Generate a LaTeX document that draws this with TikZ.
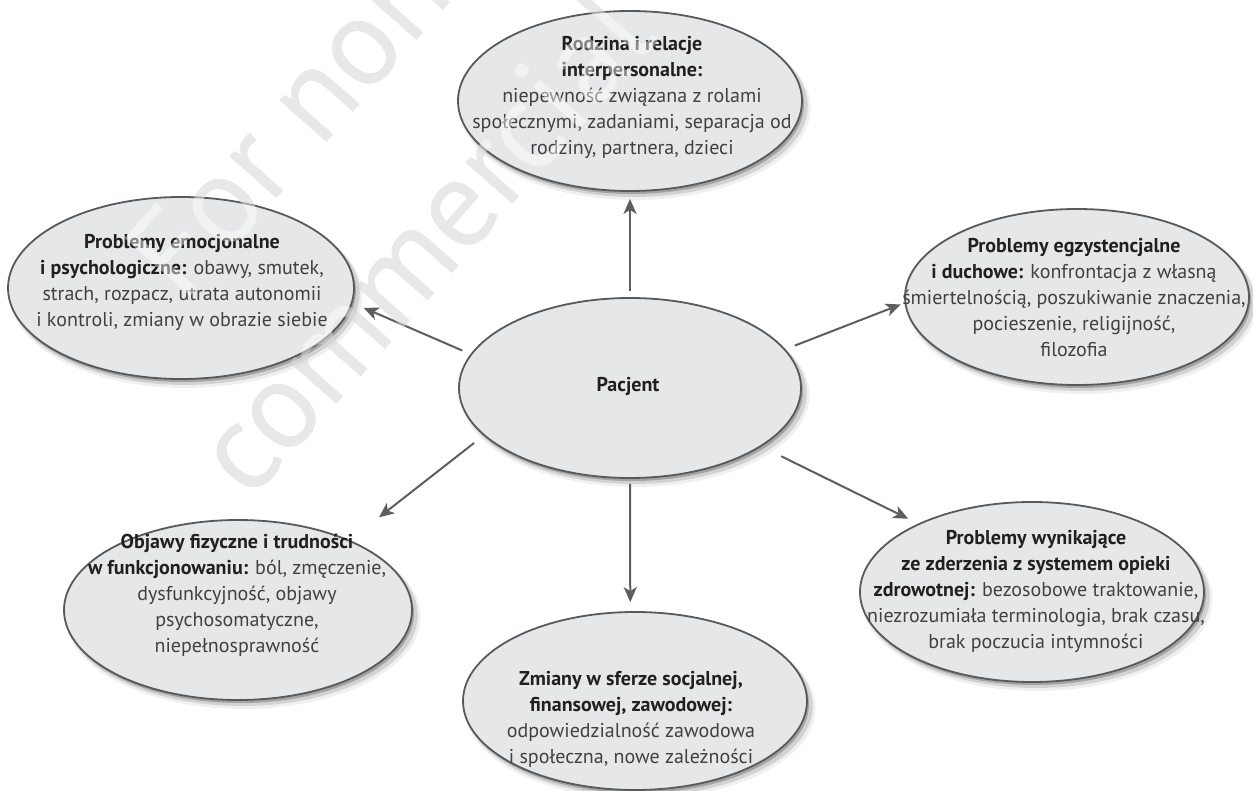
\documentclass[tikz,border=0pt]{standalone}
\usepackage{fontspec}
\setmainfont{PT Sans}
\usetikzlibrary{shapes.geometric,arrows.meta,shadows}

\definecolor{bubblefill}{HTML}{E6E7E8}
\definecolor{bubbleline}{HTML}{58595B}
\definecolor{ink}{HTML}{231F20}
\definecolor{bodytext}{HTML}{414042}
\definecolor{arrowgray}{HTML}{5D5E60}
\definecolor{markgray}{HTML}{D5D5D5}

% bold heading inside a bubble
\newcommand\hd[1]{{\bfseries\color{ink}#1}}

\begin{document}
\begin{tikzpicture}[x=1pt,y=-1pt,
  bubble/.style={ellipse, draw=bubbleline, line width=1.8pt, fill=bubblefill, inner sep=0pt,
    drop shadow={shadow xshift=2pt, shadow yshift=-3pt, opacity=0.22, fill=black},
    drop shadow={shadow xshift=4pt, shadow yshift=-5pt, shadow scale=1.01, opacity=0.12, fill=black},
    drop shadow={shadow xshift=5pt, shadow yshift=-7pt, shadow scale=1.02, opacity=0.06, fill=black}},
  bubbletext/.style={align=center, text=bodytext, font=\fontsize{20}{26}\selectfont, inner sep=0pt},
  link/.style={draw=arrowgray, line width=2pt, -{Stealth[length=15pt,width=13pt,inset=4pt]}},
  wmark/.style={rotate=48.5, align=center, font=\fontsize{125}{181}\selectfont, inner sep=0pt}]

\fill[white] (0,0) rectangle (1253,791);
\useasboundingbox (0,0) rectangle (1253,791);

% watermark, lower layer
\node[wmark, text=markgray] (wmback) at (355,182) {For non\\commercial};

% bubbles
\node[bubble, minimum width=342pt, minimum height=180pt] (pac) at (630,388) {};
\node[bubble, minimum width=344pt, minimum height=180pt] (rod) at (630,101) {};
\node[bubble, minimum width=346pt, minimum height=182pt] (emo) at (181,288) {};
\node[bubble, minimum width=344pt, minimum height=176pt] (egz) at (1077,297) {};
\node[bubble, minimum width=348pt, minimum height=180pt] (obj) at (238,610) {};
\node[bubble, minimum width=344pt, minimum height=178pt] (zmi) at (635,701) {};
\node[bubble, minimum width=344pt, minimum height=180pt] (wyn) at (1032,592) {};

% texts
\node[bubbletext] (pactxt) at (628,386) {\hd{Pacjent}};
\node[bubbletext] (rodtxt) at (632,97) {\hd{Rodzina i relacje}\\\hd{interpersonalne:}\\niepewność związana z rolami\\społecznymi, zadaniami, separacja od\\rodziny, partnera, dzieci};
\node[bubbletext] (emotxt) at (182,282) {\hd{Problemy emocjonalne}\\\hd{i psychologiczne:} obawy, smutek,\\strach, rozpacz, utrata autonomii\\i kontroli, zmiany w obrazie siebie};
\node[bubbletext] (egztxt) at (1074,298) {\hd{Problemy egzystencjalne}\\\hd{i duchowe:} konfrontacja z własną\\śmiertelnością, poszukiwanie znaczenia,\\pocieszenie, religijność,\\filozofia};
\node[bubbletext] (objtxt) at (237,595) {\hd{Objawy fizyczne i trudności}\\\hd{w funkcjonowaniu:} ból, zmęczenie,\\dysfunkcyjność, objawy\\psychosomatyczne,\\niepełnosprawność};
\node[bubbletext] (zmitxt) at (631,719) {\hd{Zmiany w sferze socjalnej,}\\\hd{finansowej, zawodowej:}\\odpowiedzialność zawodowa\\i społeczna, nowe zależności};
\node[bubbletext] (wyntxt) at (1036,591) {\hd{Problemy wynikające}\\\hd{ze zderzenia z systemem opieki}\\\hd{zdrowotnej:} bezosobowe traktowanie,\\niezrozumiała terminologia, brak czasu,\\brak poczucia intymności};

% connectors
\draw[link, shorten <=6pt, shorten >=7pt] (pac.90) -- (rod.270);
\draw[link, shorten <=9pt, shorten >=12pt] (pac.168) -- (emo.-5.9);
\draw[link, shorten <=10pt, shorten >=4pt] (pac.14) -- (egz.182.9);
\draw[link, shorten <=12pt, shorten >=37pt] (pac.198.6) -- (obj.32.2);
\draw[link, shorten <=5pt, shorten >=9pt] (pac.270) -- (zmi.93.2);
\draw[link, shorten <=22pt, shorten >=11pt] (pac.-24.8) -- (wyn.149.7);

% watermark, upper layer
\node[wmark, text=white, opacity=0.46] (wmfront) at (355,182) {For non\\commercial};
\end{tikzpicture}
\end{document}
